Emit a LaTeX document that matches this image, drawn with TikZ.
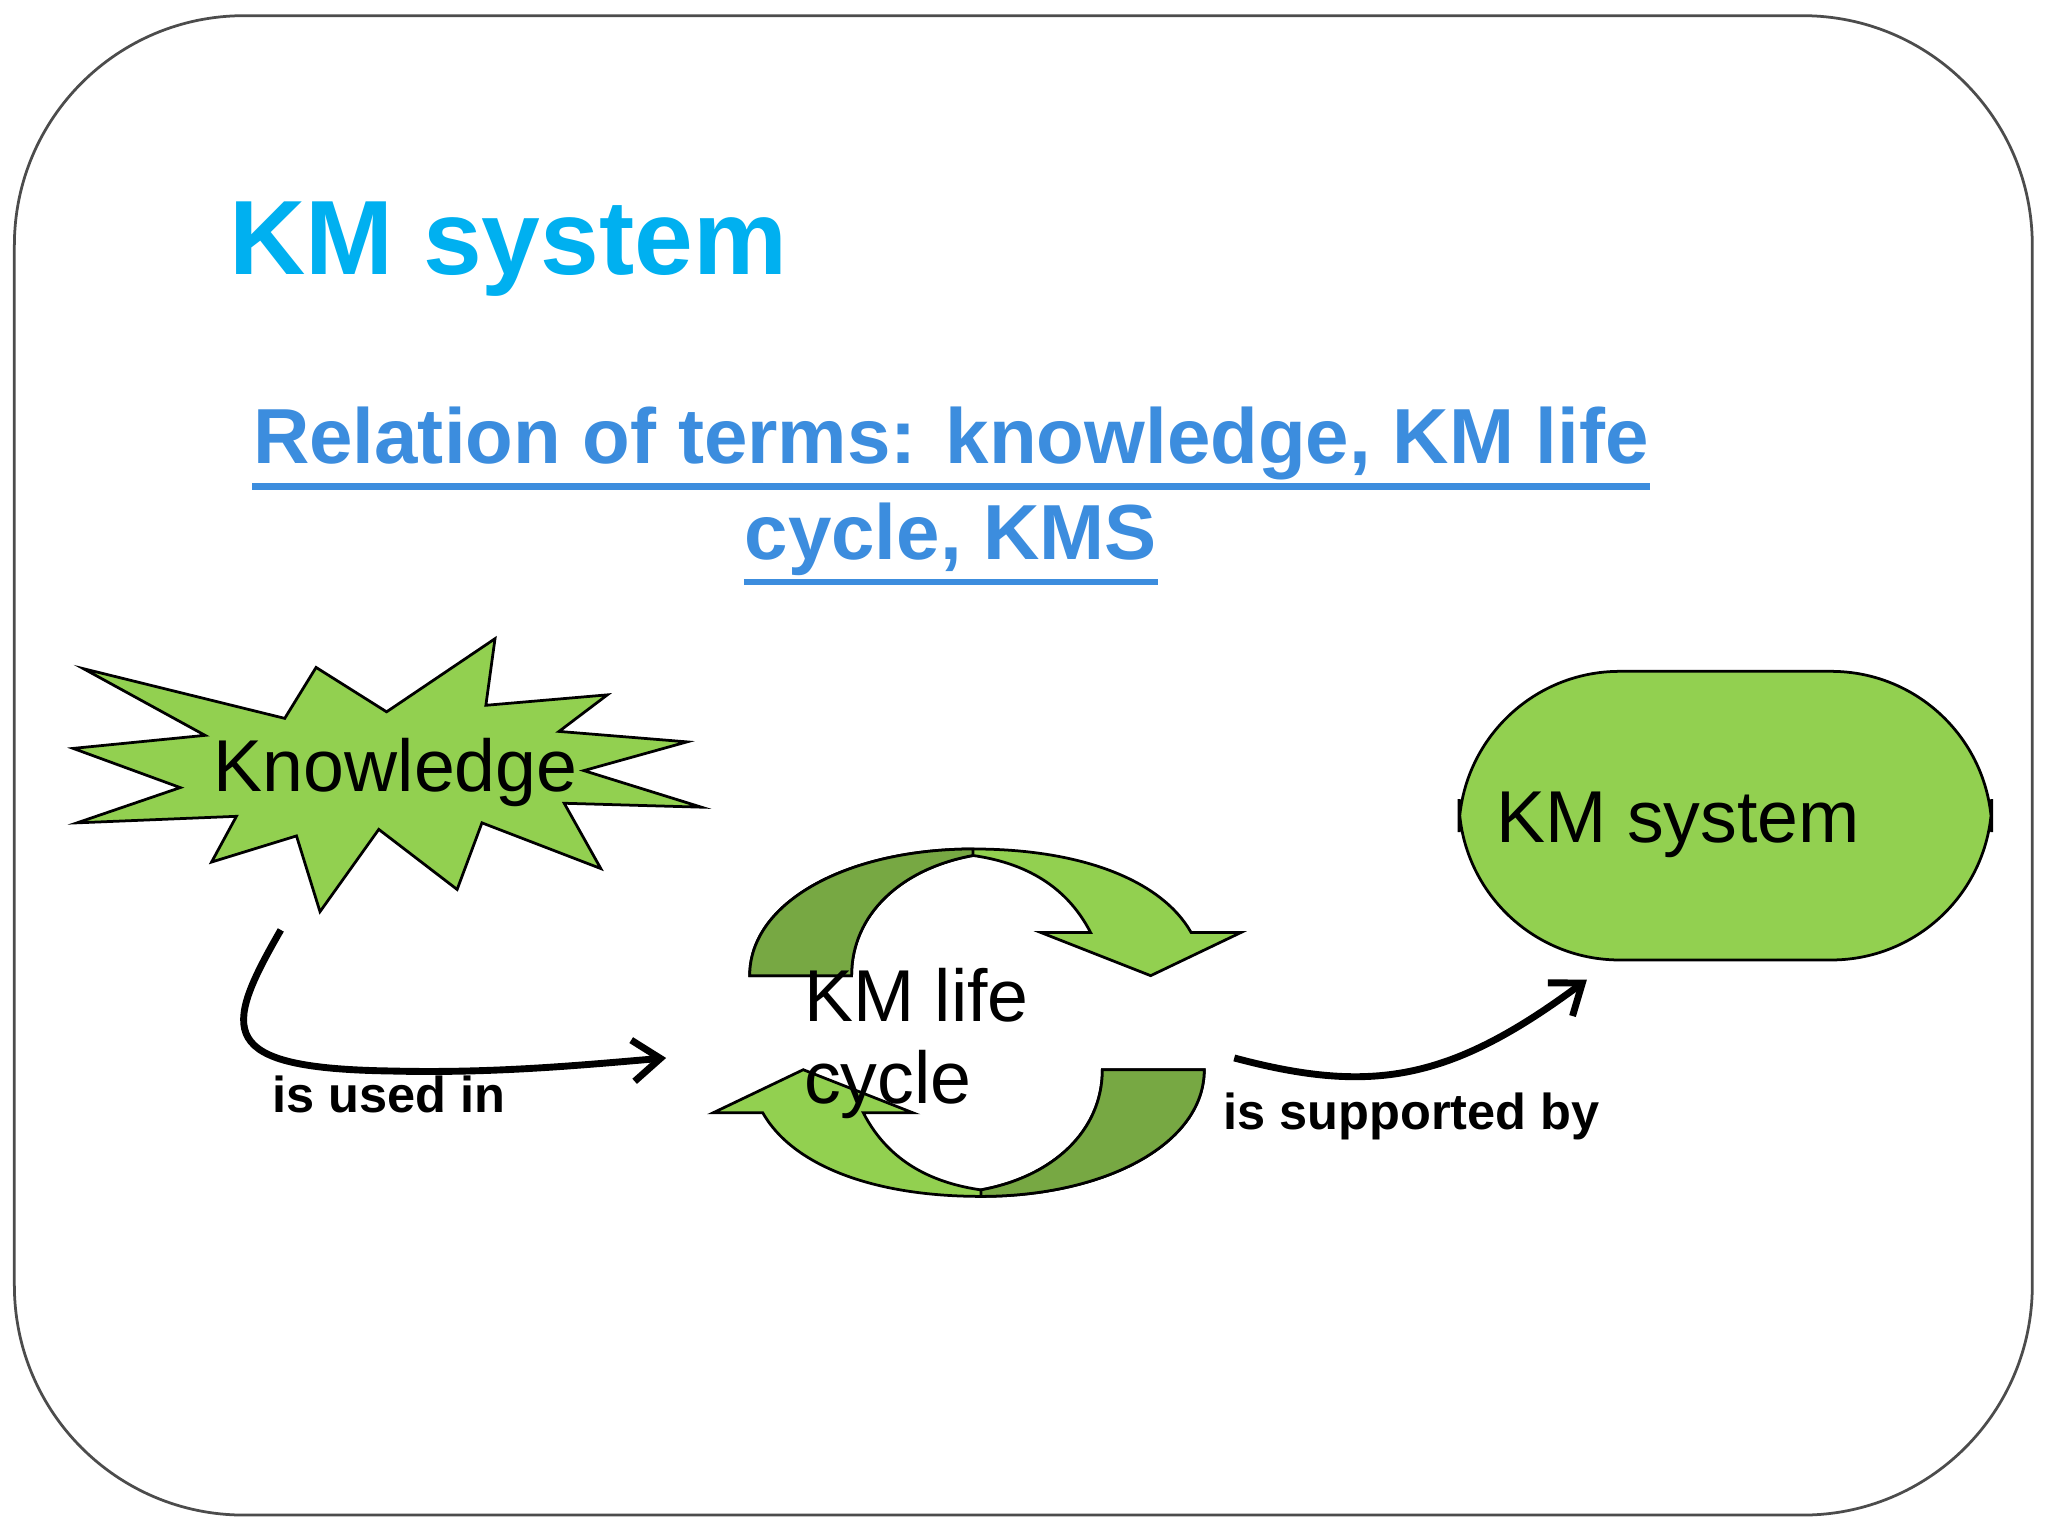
\documentclass[tikz,border=0pt]{standalone}
\usepackage{fontspec}
\setmainfont{Liberation Sans}
\begin{document}
\begin{tikzpicture}[x=0.01cm,y=-0.01cm,
  lg/.style={fill=green1,draw=black,line width=0.6pt},
  dk/.style={fill=green2,draw=black,line width=0.6pt},
  conn/.style={->,line width=1.5pt,>={Straight Barb[length=6pt,width=9pt]}},
  lab/.style={font=\fontsize{11}{13}\selectfont\bfseries,anchor=base west,inner sep=0},
  big/.style={font=\fontsize{16}{19}\selectfont,inner sep=0}]
\usetikzlibrary{arrows.meta}
\definecolor{green1}{HTML}{92D050}
\definecolor{green2}{HTML}{77A843}
\definecolor{titleblue}{HTML}{00B0F0}
\definecolor{subblue}{HTML}{3C8DDE}
\useasboundingbox (0,0) rectangle (1568,1176);
\fill[white] (0,0) rectangle (1568,1176);
\draw[black!70,line width=0.6pt,rounded corners=50] (11,12) rectangle (1556,1160);
% title
\node[anchor=base west,inner sep=0,text=titleblue,font=\fontsize{23}{27}\selectfont\bfseries] (title) at (175,210) {KM system};
\node[anchor=base,inner sep=0,text=subblue,font=\fontsize{17}{20}\selectfont\bfseries] (l1) at (728,355) {Relation of terms: knowledge, KM life};
\node[anchor=base,inner sep=0,text=subblue,font=\fontsize{17}{20}\selectfont\bfseries] (l2) at (728,428) {cycle, KMS};
\draw[subblue,line width=1.5pt] ([yshift=-5pt]l1.base west) -- ([yshift=-5pt]l1.base east);
\draw[subblue,line width=1.5pt] ([yshift=-5pt]l2.base west) -- ([yshift=-5pt]l2.base east);
% starburst
\draw[lg] (64,512)--(218,550)--(242,511)--(296,545)--(379,489)--(372,540)--(465,532)--(428,560)--(526,568)--(447,590)--(537,618)--(432,615)--(460,665)--(369,630)--(350,681)--(290,635)--(245,698)--(227,640)--(162,660)--(181,625)--(59,630)--(138,603)--(56,573)--(157,563)--cycle;
\node[big,anchor=base] (know) at (303,606) {Knowledge};
% KM system box
\draw[lg,rounded corners=35] (1117,514) rectangle (1525,735);
\node[big,anchor=base west] (kms) at (1145,645) {KM system};
% cycle arrows
\foreach \r in {0,180}{
\begin{scope}[rotate around={\r:(748,783)}]
\draw[lg] (574,747) .. controls (574,690) and (650,650) .. (745,650) .. controls (830,650) and (890,675) .. (912,714) -- (950,714) -- (881,747) -- (797,714) -- (835,714) .. controls (815,675) and (780,660) .. (745,655) .. controls (690,665) and (652,700) .. (652,747) -- cycle;
\draw[dk] (574,747) .. controls (574,690) and (650,650) .. (745,650) -- (745,655) .. controls (690,665) and (652,700) .. (652,747) -- cycle;
\end{scope}}
\node[big,anchor=base west] (cyc1) at (615,782) {KM life};
\node[big,anchor=base west] (cyc2) at (615,845) {cycle};
% connectors
\coordinate (a1) at (215,712);
\coordinate (a2) at (510,810);
\coordinate (b1) at (945,810);
\coordinate (b2) at (1215,750);
\draw[conn] (a1) .. controls (170,790) and (165,818) .. (300,820) .. controls (380,822) and (450,815) .. (a2);
\draw[conn] (b1) .. controls (1050,838) and (1110,828) .. (b2);
\node[lab] (used) at (208,852) {is used in};
\node[lab] (sup) at (936,865) {is supported by};
\end{tikzpicture}
\end{document}
